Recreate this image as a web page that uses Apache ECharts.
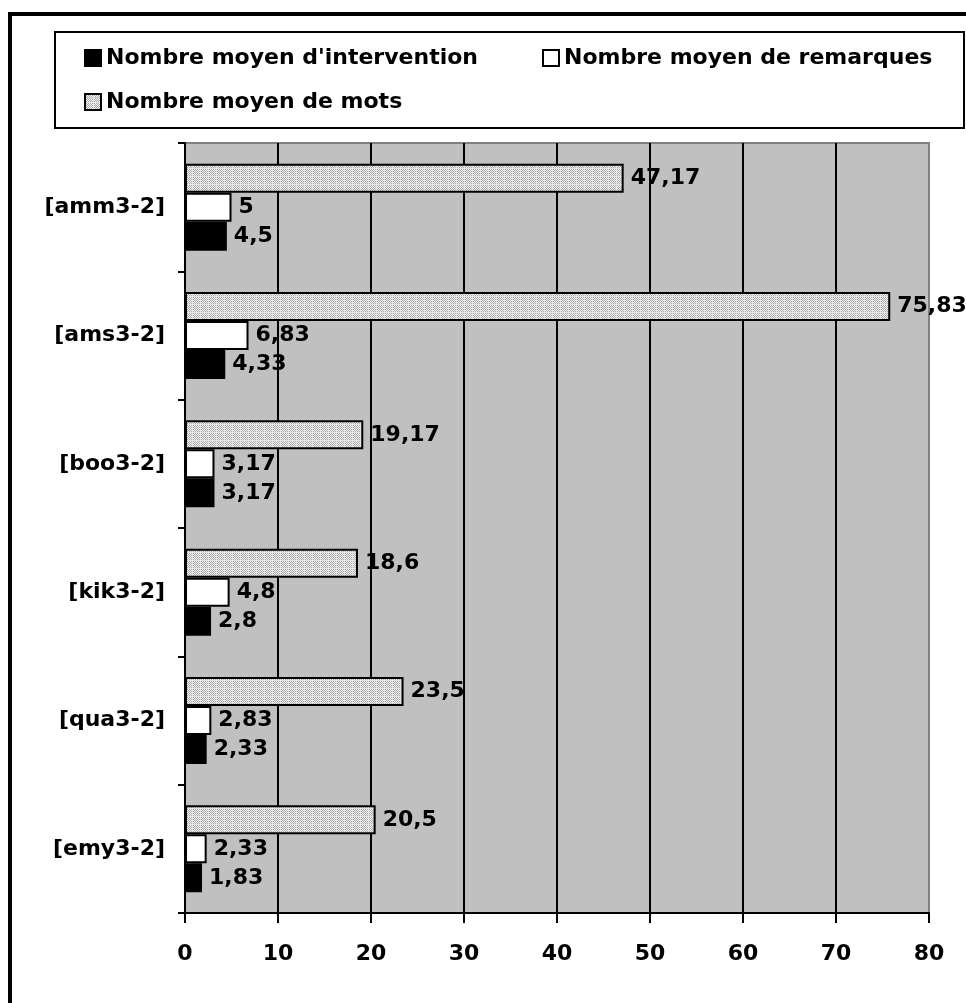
<!DOCTYPE html>
<html>
<head>
<meta charset="utf-8">
<script src="https://cdn.jsdelivr.net/npm/echarts@6/dist/echarts.min.js"></script>
<style>
  html, body { margin: 0; padding: 0; background: #fff; }
  #chart { width: 966px; height: 1003px; }
</style>
</head>
<body>
<div id="chart"></div>
<script>
// données
const categories = ['[amm3-2]', '[ams3-2]', '[boo3-2]', '[kik3-2]', '[qua3-2]', '[emy3-2]']
const mots = [47.17, 75.83, 19.17, 18.6, 23.5, 20.5]
const remarques = [5, 6.83, 3.17, 4.8, 2.83, 2.33]
const interventions = [4.5, 4.33, 3.17, 2.8, 2.33, 1.83]
const xTicks = [0, 10, 20, 30, 40, 50, 60, 70, 80]

const FONT = 'DejaVu Sans'

// motif pointillé pour les barres "mots"
const makePattern = () => {
  const c = document.createElement('canvas')
  c.width = 8
  c.height = 8
  const ctx = c.getContext('2d')
  for (let y = 0; y < 8; y++) {
    for (let x = 0; x < 8; x++) {
      let col = (x + y) % 2 === 0 ? '#a9a9a9' : '#f4f4f4'
      if (x === 0 || y === 0) col = '#e6e6e6'
      ctx.fillStyle = col
      ctx.fillRect(x, y, 1, 1)
    }
  }
  return c
}

const chart = echarts.init(document.getElementById('chart'))

const labelStyle = {
  show: true,
  position: 'right',
  distance: 7,
  color: '#000',
  fontFamily: FONT,
  fontWeight: 'bold',
  fontSize: 22,
  formatter: p => String(p.value).replace('.', ',')
}

const legendText = {
  color: '#000',
  fontFamily: FONT,
  fontWeight: 'bold',
  fontSize: 22,
  lineHeight: 22,
  padding: [0, 0, 0, 0]
}

const legendBase = {
  icon: 'rect',
  itemWidth: 16,
  itemHeight: 16,
  itemGap: 0,
  padding: 0,
  selectedMode: false,
  textStyle: legendText
}

const option = {
  animation: false,
  backgroundColor: '#fff',
  graphic: [
    {
      type: 'rect',
      shape: { x: 10, y: 14, width: 1000, height: 1000 },
      style: { fill: 'none', stroke: '#000', lineWidth: 4 },
      z: 100
    },
    {
      type: 'rect',
      shape: { x: 55, y: 32, width: 909, height: 96 },
      style: { fill: 'none', stroke: '#000', lineWidth: 2 },
      z: 100
    }
  ],
  legend: [
    Object.assign({}, legendBase, { data: ["Nombre moyen d'intervention"], left: 84, top: 47 }),
    Object.assign({}, legendBase, { data: ['Nombre moyen de remarques'], left: 542, top: 47 }),
    Object.assign({}, legendBase, { data: ['Nombre moyen de mots'], left: 84, top: 91 })
  ],
  grid: {
    left: 185,
    right: 37,
    top: 143,
    bottom: 90,
    show: true,
    backgroundColor: '#c0c0c0',
    borderColor: '#808080',
    borderWidth: 2
  },
  xAxis: {
    type: 'value',
    min: xTicks[0],
    max: xTicks[xTicks.length - 1],
    interval: 10,
    axisLine: { show: true, lineStyle: { color: '#000', width: 2 } },
    axisTick: { show: true, length: 10, lineStyle: { color: '#000', width: 2 } },
    axisLabel: {
      margin: 30,
      color: '#000',
      fontFamily: FONT,
      fontWeight: 'bold',
      fontSize: 22
    },
    splitLine: {
      show: true,
      showMinLine: false,
      showMaxLine: false,
      lineStyle: { color: '#000', width: 2 }
    }
  },
  yAxis: {
    type: 'category',
    inverse: true,
    data: categories,
    axisLine: { show: true, lineStyle: { color: '#000', width: 2 } },
    axisTick: { show: true, length: 7, lineStyle: { color: '#000', width: 2 } },
    axisLabel: {
      margin: 20,
      color: '#000',
      fontFamily: FONT,
      fontWeight: 'bold',
      fontSize: 22,
      padding: [4, 0, 0, 0]
    }
  },
  series: [
    {
      name: 'Nombre moyen de mots',
      type: 'bar',
      data: mots,
      barWidth: 29,
      barGap: '0%',
      itemStyle: { color: { image: makePattern(), repeat: 'repeat' }, borderColor: '#000', borderWidth: 2 },
      label: labelStyle
    },
    {
      name: 'Nombre moyen de remarques',
      type: 'bar',
      data: remarques,
      barWidth: 29,
      barGap: '0%',
      itemStyle: { color: '#fff', borderColor: '#000', borderWidth: 2 },
      label: labelStyle
    },
    {
      name: "Nombre moyen d'intervention",
      type: 'bar',
      data: interventions,
      barWidth: 29,
      barGap: '0%',
      itemStyle: { color: '#000', borderColor: '#000', borderWidth: 2 },
      label: labelStyle
    }
  ]
}

chart.setOption(option)
</script>
</body>
</html>
